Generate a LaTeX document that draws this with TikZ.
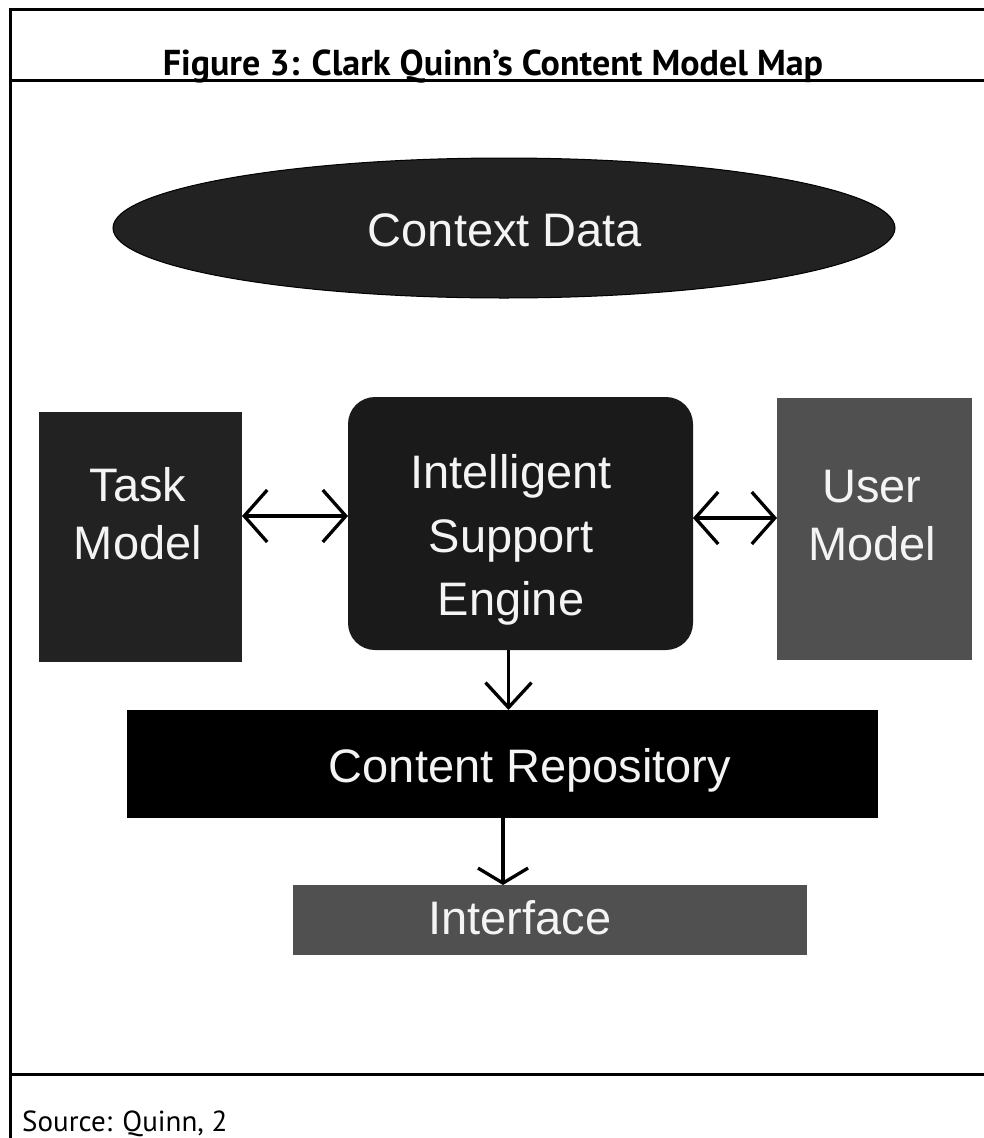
\documentclass[tikz,border=0pt]{standalone}
\usepackage{fontspec}
\setmainfont{PT Sans}
\newfontfamily\diagfont{Liberation Sans}
\usetikzlibrary{arrows.meta,calc,shapes.geometric}

\definecolor{boxdark}{HTML}{222222}
\definecolor{enginefill}{HTML}{1A1A1A}
\definecolor{boxgrey}{HTML}{505050}
\definecolor{labelwhite}{HTML}{F4F4F4}

\tikzset{
  frame/.style={line width=3pt, line cap=rect},
  block/.style={inner sep=0pt, outer sep=0pt, draw=none},
  blocktext/.style={text=labelwhite, font=\diagfont\fontsize{47}{58}\selectfont, align=center, inner sep=0pt},
  link/.style={line width=3.3pt, black},
  twoway/.style={link, {Straight Barb[length=23pt,width=52pt]}-{Straight Barb[length=23pt,width=52pt]}},
  oneway/.style={link, -{Straight Barb[length=25pt,width=46pt]}},
  flatway/.style={link, -{Straight Barb[length=15pt,width=50pt]}},
}

\begin{document}
\begin{tikzpicture}[x=1pt, y=-1pt]
  % page area
  \fill[white] (0,0) rectangle (984,1138);
  \useasboundingbox (0,0) rectangle (984,1138);

  % table frame
  \draw[frame] (10,1140) -- (10,9) -- (986,9);
  \draw[frame] (10,80) -- (986,80);
  \draw[frame] (10,1074) -- (986,1074);

  \node[anchor=base, inner sep=0pt, font=\bfseries\fontsize{36}{42}\selectfont] (title)
    at (493,75) {Figure 3: Clark Quinn’s Content Model Map};
  \node[anchor=base west, inner sep=0pt, font=\fontsize{29}{35}\selectfont] (source)
    at (22,1131) {Source: Quinn, 2};

  % context ellipse
  \node[ellipse, block, fill=boxdark, draw=black, line width=1pt,
        minimum width=782pt, minimum height=140pt] (context) at (504,228) {};
  \node[blocktext, anchor=base] (contextlbl) at (505,246) {Context Data};

  % middle row
  \node[block, fill=boxdark, minimum width=203pt, minimum height=250pt] (task) at (140.5,537) {};
  \node[blocktext] (tasklbl) at (138,514) {Task\\Model};

  \node[block, fill=enginefill, rounded corners=27pt, minimum width=345pt, minimum height=253pt] (ise) at (520.5,523.5) {};
  \node[blocktext, font=\diagfont\fontsize{47}{63.5}\selectfont] (iselbl) at (511,540) {Intelligent\\Support\\Engine};

  \node[block, fill=boxgrey, minimum width=195pt, minimum height=262pt] (user) at (874.5,529) {};
  \node[blocktext] (userlbl) at (872,516) {User\\Model};

  % lower blocks
  \node[block, fill=black, minimum width=751pt, minimum height=108pt] (repo) at (502.5,764) {};
  \node[blocktext, anchor=base] (repolbl) at (530,782) {Content Repository};

  \node[block, fill=boxgrey, minimum width=514pt, minimum height=70pt] (iface) at (549.5,920) {};
  \node[blocktext, anchor=base] (ifacelbl) at (520,934) {Interface};

  % connectors
  \coordinate (tl) at ($(task.east)+(0,-21)$);
  \draw[twoway] (tl) -- (tl -| ise.west);
  \coordinate (ul) at ($(ise.east)+(0,-5.5)$);
  \draw[twoway] (ul) -- (ul -| user.west);
  \coordinate (dl) at ($(ise.south)+(-12,0)$);
  \draw[oneway] (dl) -- (dl |- repo.north);
  \coordinate (il) at ($(repo.south)+(0.5,0)$);
  \draw[flatway] (il) -- (il |- iface.north);
\end{tikzpicture}
\end{document}
